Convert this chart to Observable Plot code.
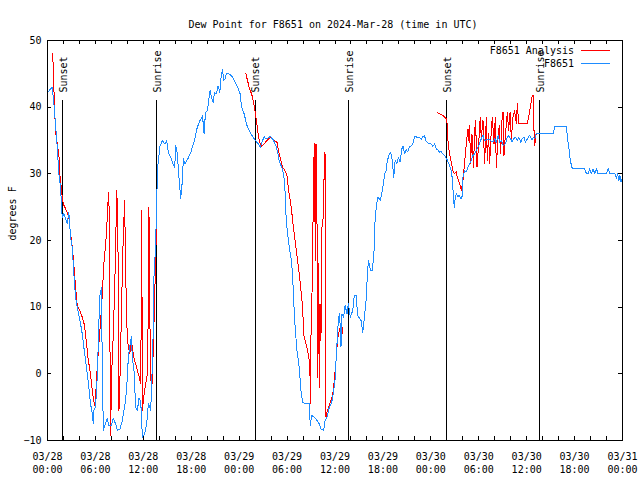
<!DOCTYPE html>
<html><head><meta charset="utf-8">
<script src="https://cdn.jsdelivr.net/npm/d3@7"></script>
<script src="https://cdn.jsdelivr.net/npm/@observablehq/plot@0.6"></script>
<style>
body{margin:0;background:#fff;}
#wrap{position:relative;width:640px;height:480px;}
.leg{position:absolute;right:30px;height:12px;display:flex;align-items:center;font:10px "DejaVu Sans Mono",monospace;color:#000;}
.leg .s{display:inline-block;width:29px;height:0;margin-left:7px;border-top:1px solid;}
</style></head><body>
<div id="wrap"><div id="chart"></div>
<div class="leg" style="top:44px"><span>F8651 Analysis</span><span class="s" style="border-color:#ff0000"></span></div>
<div class="leg" style="top:57px"><span>F8651</span><span class="s" style="border-color:#1e8cff"></span></div>
</div>
<script>
const titleText = "Dew Point for F8651 on 2024-Mar-28 (time in UTC)";
const yLabel = "degrees F";
const seriesNames = ["F8651 Analysis", "F8651"];
const yTicks = [-10, 0, 10, 20, 30, 40, 50];
const xMajorHours = [0, 6, 12, 18, 24, 30, 36, 42, 48, 54, 60, 66, 72];
const xMinorHours = [0,2,4,6,8,10,12,14,16,18,20,22,24,26,28,30,32,34,36,38,40,42,44,46,48,50,52,54,56,58,60,62,64,66,68,70,72];
const sunHours = [1.92, 13.71, 26.0, 37.67, 49.96, 61.63];
const sunLabels = ["Sunset", "Sunrise", "Sunset", "Sunrise", "Sunset", "Sunrise"];

// F8651 observations: hours after 2024-03-28 00:00 UTC, dew point (F)
const blueHours = [0, 0.59, 0.79, 1.0, 1.22, 1.42, 1.63, 1.84, 2.04, 2.47, 2.67, 2.89, 3.10, 3.30, 3.51, 3.73, 4.14, 4.35, 4.55, 4.77, 4.98, 5.18, 5.39, 5.61, 5.73, 5.81, 6.02, 6.23, 6.43, 6.56, 6.74, 6.86, 6.99, 7.15, 7.49, 7.69, 7.99, 8.24, 8.53, 8.74, 9.07, 9.37, 9.57, 9.78, 10.0, 10.12, 10.29, 10.5, 10.62, 10.83, 11.04, 11.25, 11.45, 11.67, 11.88, 12.17, 12.42, 12.63, 12.79, 12.92, 13.05, 13.21, 13.33, 13.55, 13.67, 13.84, 14.09, 14.39, 14.68, 14.93, 15.14, 15.43, 15.72, 15.93, 16.06, 16.27, 16.39, 16.6, 16.68, 16.85, 17.02, 17.19, 17.35, 17.6, 17.94, 18.19, 18.44, 18.69, 18.98, 19.19, 19.41, 19.61, 19.78, 20.03, 20.23, 20.36, 20.53, 20.74, 20.91, 21.16, 21.36, 21.58, 21.74, 21.91, 22.08, 22.24, 22.42, 22.74, 23.17, 23.58, 23.8, 24.12, 24.3, 24.62, 24.96, 25.46, 25.88, 26.38, 26.63, 27.13, 27.35, 27.89, 28.22, 28.6, 28.81, 29.01, 29.32, 29.57, 29.77, 29.89, 30.07, 30.27, 30.48, 30.69, 30.82, 30.98, 31.23, 31.52, 31.74, 31.95, 32.36, 32.78, 32.9, 33.08, 33.41, 33.74, 34.03, 34.24, 34.58, 34.75, 35.0, 35.29, 35.59, 35.84, 36.0, 36.13, 36.25, 36.42, 36.54, 36.67, 36.75, 36.88, 37.09, 37.26, 37.51, 37.67, 37.92, 38.22, 38.42, 38.63, 38.85, 39.26, 39.48, 39.68, 39.89, 40.01, 40.18, 40.3, 40.43, 40.64, 40.86, 41.02, 41.18, 41.36, 41.56, 41.68, 41.93, 42.11, 42.27, 42.4, 42.52, 42.74, 42.94, 43.11, 43.24, 43.36, 43.53, 43.74, 43.94, 44.15, 44.37, 44.53, 44.69, 44.91, 45.12, 45.32, 45.53, 45.75, 45.95, 46.29, 46.58, 46.79, 47.0, 47.2, 47.42, 47.7, 47.95, 48.26, 48.46, 48.67, 48.88, 49.08, 49.3, 49.51, 49.8, 50.05, 50.21, 50.34, 50.55, 50.72, 50.8, 50.93, 51.06, 51.22, 51.4, 51.56, 51.73, 51.9, 52.02, 52.22, 52.44, 52.65, 52.85, 53.06, 53.27, 53.47, 53.69, 53.9, 54.1, 54.31, 54.53, 54.73, 54.95, 55.36, 55.78, 55.99, 56.21, 56.42, 56.62, 56.83, 57.05, 57.33, 57.58, 57.75, 58.0, 58.17, 58.34, 58.59, 58.85, 59.0, 59.26, 59.43, 59.68, 59.83, 60.09, 60.34, 60.5, 60.68, 60.84, 61.0, 61.18, 61.63, 63.31, 63.51, 64.98, 65.1, 65.27, 65.44, 65.6, 65.73, 67.27, 67.49, 67.7, 67.9, 68.11, 68.32, 68.53, 68.74, 68.95, 69.99, 70.21, 70.41, 71.04, 71.25, 71.38, 71.55, 71.67, 71.82, 72.0];
const blueValues = [42.2, 43, 40.7, 37.5, 34, 30, 28, 23.5, 24, 22.5, 24.2, 20.5, 19, 15, 11.5, 10, 7.5, 6, 4, 2, 0, -2, -4.5, -6, -7.5, -5.5, -5, -0.5, 7.5, 11.7, 12.9, 1.5, -8.5, -7.8, -6.7, -7.8, -7.8, -6.7, -7.5, -8.5, -8.3, -7, -5.5, -4, -0.5, 2.5, 4, 5.6, 2.5, 0.5, -5, -5.5, -3.7, -4, -9.5, -9, -7.5, -4.5, -5, -5.5, -1.5, 5, 14.5, 19.5, 26.5, 31.5, 34.2, 35, 34.5, 35, 33.2, 32.5, 31.5, 31, 34.2, 33, 30.5, 27.5, 26.3, 28.5, 32.3, 31.5, 31.8, 32.3, 33.2, 34.2, 35.2, 36.7, 37.7, 38.2, 38.7, 36, 39.2, 39.5, 41.5, 42.5, 41.5, 40.7, 42.2, 42, 43.2, 42.2, 44.5, 45.7, 44, 44.3, 45.1, 45, 44.5, 43.5, 43, 42, 40, 39, 37.3, 36, 35.25, 34.5, 34, 35.6, 35.2, 35.6, 35.2, 34.25, 33.25, 32, 31, 30, 27, 23, 21, 19, 17.5, 15, 11, 7.5, 3.5, 1, -2.5, -4.25, -4.5, -4.5, -7.75, -6.25, -6.5, -7, -7.5, -8.25, -8.5, -7, -6.5, -5, -4.25, -2.5, -1, 2, 4.5, 8, 9, 7, 4, 9, 8.5, 10.25, 9, 10.5, 8.5, 9.5, 11.75, 11.75, 8.75, 8, 6.25, 8.5, 11, 13.75, 17, 16.5, 15.5, 15.5, 17.5, 23, 25.25, 26.5, 26.25, 26, 27.5, 29, 30.25, 30.5, 31.75, 32.75, 33.25, 32.5, 31, 29.5, 32, 31.5, 32.5, 31.8, 33.75, 34.2, 33, 33.6, 33.3, 34, 34.2, 34.5, 35.6, 35.5, 35.4, 35.2, 35.6, 35.7, 34.9, 34.6, 34.6, 34.1, 34.5, 33.75, 33.6, 33.25, 33.3, 33, 32.6, 32.1, 31.6, 31.25, 30.5, 29, 27, 25, 26.5, 27, 26.5, 26.8, 26.25, 26.5, 29.5, 30.5, 30.3, 31, 31.5, 32, 32.75, 33, 33.5, 34, 34.5, 35.25, 35.75, 35, 35.1, 35.1, 34.75, 35.25, 34.75, 35.75, 34.75, 35, 34.25, 34.5, 35.5, 35.75, 35.25, 34.75, 35.25, 35.5, 35, 35.5, 34.75, 35.25, 35.5, 34.75, 35.25, 35.75, 35.5, 35.1, 35.5, 35.25, 36, 36, 36, 37.1, 37.1, 35.5, 34, 32.25, 31.25, 30.75, 30.75, 30, 30, 30.75, 30, 30.75, 30, 30.75, 30, 30, 30.75, 30, 30, 29.25, 30, 29, 29.75, 28.75, 29.5];

// F8651 Analysis, three night-time segments
const red1Hours = [0.66, 0.72, 0.88, 1.0, 1.22, 1.42, 1.54, 1.72, 1.84, 1.97, 2.26, 2.67, 2.89, 3.10, 3.22, 3.39, 3.55, 3.73, 4.05, 4.35, 4.64, 4.89, 5.06, 5.31, 5.48, 5.68, 5.9, 6.02, 6.15, 6.31, 6.56, 6.77, 7.06, 7.28, 7.4, 7.56, 7.69, 7.9, 8.03, 8.24, 8.4, 8.53, 8.66, 8.8, 8.95, 9.1, 9.3, 9.45, 9.65, 9.85, 10.0, 10.3, 10.5, 10.8, 11.04, 11.25, 11.45, 11.67, 11.75, 11.8, 11.88, 12.1, 12.3, 12.5, 12.63, 12.7, 12.8, 12.92, 13.1, 13.25, 13.42, 13.58, 13.7];
const red1Values = [48, 45.5, 40, 36.5, 34.5, 33, 30, 28, 26.5, 25.5, 24.8, 23.5, 21, 19, 17.5, 15, 12.5, 10.1, 9.5, 8.5, 7.25, 4.5, 2.5, 0.5, -1, -3.25, -4.75, -3.5, -0.5, 2.5, 6.5, 10, 16.5, 19.5, 21.5, 25.5, 27.25, -9.25, 0, 6, 12.5, 18.5, 27.5, 24, -5.5, 0.5, 11.5, 19, 26, 11.5, 5, 3, 5, 2.5, 1.5, 0.5, -0.25, -1.5, 11.5, 24.5, -5.5, -3, -1.5, 0, 10, 25, 10, -1, -1.5, 4, 11.5, 19, 23];
const red2Hours = [24.84, 25.25, 25.68, 25.97, 26.22, 26.38, 26.56, 26.81, 27.13, 27.56, 27.97, 28.39, 28.73, 29.01, 29.23, 29.44, 29.73, 29.98, 30.14, 30.39, 30.57, 30.69, 30.9, 31.11, 31.32, 31.52, 31.74, 31.95, 32.07, 32.36, 32.58, 32.78, 32.9, 32.93, 32.99, 33.12, 33.2, 33.33, 33.43, 33.53, 33.62, 33.71, 33.83, 33.91, 34.03, 34.12, 34.24, 34.37, 34.58, 34.66, 34.75, 34.87, 35.0, 35.21, 35.41, 35.71, 35.91, 36.13, 36.25, 36.42, 36.67, 36.84, 36.97];
const red2Values = [45, 43, 41.5, 39.5, 37.5, 36, 34.75, 34.1, 34.5, 35.1, 35.5, 35, 34.75, 33, 32, 31, 30.5, 29.75, 28, 26, 24.5, 23, 21, 19, 17, 15, 12.5, 10, 6, 4.5, 3.5, 2, -1, -4.5, 5.5, 12, 18, 31, 34.5, 17, 34.5, 33, -0.5, 16.5, -2, 10.5, 5, 22, 24, 33.2, 33, -6.5, -5.75, -5, -4.25, -3.25, -1, 2, 4, 6, 7, 5.5, 7];
const red3Hours = [48.88, 49.51, 49.92, 50.05, 50.14, 50.34, 50.55, 50.76, 50.97, 51.18, 51.3, 51.47, 51.72, 51.81, 52.02, 52.22, 52.44, 52.65, 52.77, 52.85, 52.97, 53.15, 53.35, 53.47, 53.6, 53.78, 53.98, 54.19, 54.31, 54.53, 54.73, 54.95, 55.07, 55.23, 55.36, 55.57, 55.7, 55.91, 56.07, 56.2, 56.42, 56.57, 56.74, 56.91, 57.04, 57.16, 57.33, 57.58, 57.74, 57.92, 58.08, 58.29, 58.49, 58.71, 58.83, 58.99, 59.55, 60.09, 60.25, 60.46, 60.68, 60.8, 60.93, 61.0, 61.18];
const red3Values = [39.15, 38.75, 38.25, 37.5, 35, 33, 31.75, 30.5, 30, 30.3, 29.5, 29, 28, 27.5, 29, 31.5, 34.5, 36.75, 35, 37.25, 31.5, 36, 31, 36.25, 38, 31, 34.25, 38.5, 35.5, 38, 31.5, 38.5, 32, 36, 31.5, 36.5, 38.5, 34.5, 38.5, 31, 35.5, 37.25, 33, 38, 39.25, 32.75, 35.75, 39.25, 36.5, 39.25, 35.25, 38.5, 39.5, 37.5, 40.6, 37.6, 37.6, 37.6, 38.5, 40, 41.6, 41.75, 36, 34.25, 36];

const start = Date.UTC(2024, 2, 28);
const toDate = h => new Date(start + h * 3600e3);
function rows(hours, values, seg) {
  if (hours.length !== values.length) throw new Error("length mismatch seg " + seg + ": " + hours.length + " vs " + values.length);
  return hours.map((h, i) => ({time: toDate(h), value: values[i], seg}));
}
const blue = rows(blueHours, blueValues, 0);
const red = [...rows(red1Hours, red1Values, 1), ...rows(red2Hours, red2Values, 2), ...rows(red3Hours, red3Values, 3)];
const sun = sunHours.map((h, i) => ({time: toDate(h), label: sunLabels[i]}));
const fmtD = d3.utcFormat("%m/%d"), fmtT = d3.utcFormat("%H:%M");

const W = 640, H = 480, mL = 47, mR = 18, mT = 40, mB = 40;
const innerW = W - mL - mR, innerH = H - mT - mB, tick = 4;
const blueColor = "#1e8cff", redColor = "#ff0000";

const chart = Plot.plot({
  width: W, height: H,
  marginLeft: mL, marginRight: mR, marginTop: mT, marginBottom: mB,
  style: {fontFamily: '"DejaVu Sans Mono", monospace', fontSize: "10px", background: "white", color: "black"},
  x: {type: "utc", domain: [toDate(0), toDate(72)]},
  y: {domain: [-10, 50]},
  marks: [
    Plot.ruleX(sun, {x: "time", insetTop: 60, stroke: "black"}),
    Plot.text(sun, {x: "time", text: "label", frameAnchor: "top", dy: 52, dx: 1, rotate: -90, textAnchor: "start", lineAnchor: "middle", fill: "black"}),
    Plot.line(red, {x: "time", y: "value", z: "seg", stroke: redColor, strokeWidth: 1}),
    Plot.line(blue, {x: "time", y: "value", stroke: blueColor, strokeWidth: 1}),
    Plot.frame({stroke: "black"}),
    Plot.ruleX(xMinorHours.map(toDate), {insetTop: innerH - tick, stroke: "black"}),
    Plot.ruleX(xMinorHours.map(toDate), {insetBottom: innerH - tick, stroke: "black"}),
    Plot.ruleY(yTicks, {insetRight: innerW - tick, stroke: "black"}),
    Plot.ruleY(yTicks, {insetLeft: innerW - tick, stroke: "black"}),
    Plot.axisX({ticks: xMajorHours.map(toDate), tickSize: 0, tickPadding: 10, lineHeight: 1.3, tickFormat: d => fmtD(d) + "\n" + fmtT(d), label: null, fill: "black"}),
    Plot.axisY({ticks: yTicks, tickSize: 0, tickPadding: 6, label: null, fill: "black"}),
    Plot.text([titleText], {frameAnchor: "top", dy: -20, dx: -2, fill: "black"}),
    Plot.text([yLabel], {frameAnchor: "left", dx: -35, rotate: -90, fill: "black"})
  ]
});
chart.setAttribute("shape-rendering", "crispEdges");
document.getElementById("chart").appendChild(chart);
</script>
</body></html>
